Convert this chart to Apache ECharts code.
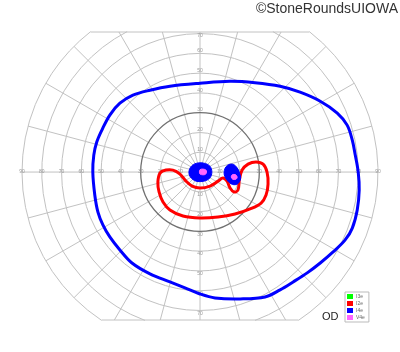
<!DOCTYPE html>
<html><head><meta charset="utf-8">
<script src="https://cdn.jsdelivr.net/npm/echarts@6/dist/echarts.min.js"></script>
<style>html,body{margin:0;padding:0;background:#fff}#c{width:400px;height:352px}</style>
</head><body><div id="c"></div>
<script>
// ---- chart data (degrees of visual field) ----
const gridRadii = [10, 20, 30, 40, 50, 60, 70, 80, 90];
const meridianAngles = [0, 15, 30, 45, 60, 75, 90, 105, 120, 135, 150, 165, 180, 195, 210, 225, 240, 255, 270, 285, 300, 315, 330, 345];
const hTickLabels = [10, 20, 30, 40, 50, 60, 70, 80, 90];
const vTickLabels = [10, 20, 30, 40, 50, 60, 70];
const fieldTop = 71;     // upper field limit (deg)
const fieldBottom = -75; // lower field limit (deg)

// I4e outer isopter [x, y] in degrees
const isopterI4e = [
  [-54.2, 0], [-53.7, 8.6], [-52.2, 15.2], [-49.6, 21.3], [-45.6, 28.9], [-40.5, 34.9],
  [-33.9, 39.0], [-25.3, 41.5], [-15.2, 43.5], [0, 45.0], [15.2, 46.0], [27.8, 45.3],
  [40.5, 43.5], [50.6, 40.5], [60.8, 35.9], [69.4, 29.9], [74.4, 23.8], [77.0, 16.2],
  [78.5, 8.6], [80.0, 0], [80.5, -9.1], [79.5, -19.2], [77.0, -28.4], [73.4, -34.4],
  [67.3, -40.5], [60.8, -46.1], [54.2, -51.1], [47.1, -55.7], [40.5, -59.7], [32.9, -63.3],
  [20.3, -64.3], [7.6, -63.8], [0, -61.8], [-7.6, -58.7], [-15.2, -55.7], [-25.3, -51.6],
  [-34.4, -46.1], [-40.5, -39.5], [-45.6, -32.9], [-49.1, -26.8], [-51.6, -20.3], [-53.2, -11.6]
];
// I2e isopter
const isopterI2e = [
  [-20.2, -0.5], [-17.2, 1.0], [-13.7, 1.0], [-10.1, -1.0], [-7.1, -4.6], [-4.0, -7.1],
  [0, -8.1], [5.1, -7.1], [9.1, -4.6], [11.6, -3.0], [13.7, -4.6], [15.2, -8.1],
  [17.2, -10.1], [19.2, -9.1], [19.9, -4.0], [21.3, 1.0], [24.3, 4.0], [28.3, 5.1],
  [31.9, 4.0], [33.9, 0], [34.4, -6.1], [33.4, -11.6], [30.9, -15.7], [25.3, -18.7],
  [17.7, -21.3], [9.1, -22.8], [0, -23.3], [-8.6, -22.3], [-15.2, -19.2], [-18.7, -15.2],
  [-20.7, -10.1], [-21.3, -5.1]
];
// filled I4e areas
const areaI4eCentral = [[-4.5, 2.8], [-2, 4.4], [2, 4.5], [5, 3], [6, 0], [5, -3], [2, -4.6], [-2, -4.6], [-4.8, -2.6], [-5.6, 0]];
const areaI4eBlindSpot = [[12.5, 1.5], [14, 3.5], [16.5, 4], [18.5, 2.5], [20, -0.5], [20.5, -3.5], [19, -6], [16.5, -6.3], [14, -4.5], [12.3, -1.5]];
// filled V4e areas
const areaV4eCentral = [[0, 1.2], [1.5, 1.5], [3, 1], [3.3, 0], [2.8, -1.1], [1.5, -1.4], [0, -1], [-0.3, 0]];
const areaV4eBlindSpot = [[16.3, -1.4], [17.9, -1.3], [18.8, -2.6], [18.1, -3.7], [16.5, -3.6], [15.8, -2.5]];

const legendNames = ['I3e', 'I2e', 'I4e', 'V4e'];
const legendColors = ['#00ff00', '#ff0000', '#0000ff', '#ff66ff'];

// ---- rendering ----
const LIGHT = '#c2c2c2';
const chart = echarts.init(document.getElementById('c'), null, {renderer: 'canvas'});

function renderCircle(params, api) {
  const r = api.value(0);
  const c = api.coord([0, 0]);
  const R = api.size([r, 0])[0];
  const dark = r === 30;
  const style = {fill: 'none', stroke: dark ? '#707070' : LIGHT, lineWidth: dark ? 1.3 : 1};
  if (r <= fieldTop) return {type: 'circle', shape: {cx: c[0], cy: c[1], r: R}, style};
  const at = Math.asin(Math.min(1, fieldTop / r));
  const ab = Math.asin(Math.min(1, -fieldBottom / r));
  const children = [
    {type: 'arc', shape: {cx: c[0], cy: c[1], r: R, startAngle: -at, endAngle: ab, clockwise: true}, style},
    {type: 'arc', shape: {cx: c[0], cy: c[1], r: R, startAngle: Math.PI - ab, endAngle: Math.PI + at, clockwise: true}, style}
  ];
  if (r === gridRadii[gridRadii.length - 1]) {
    const wt = Math.sqrt(r * r - fieldTop * fieldTop);
    const wb = Math.sqrt(r * r - fieldBottom * fieldBottom);
    const a1 = api.coord([-wt, fieldTop]), a2 = api.coord([wt, fieldTop]);
    const b1 = api.coord([-wb, fieldBottom]), b2 = api.coord([wb, fieldBottom]);
    children.push({type: 'line', shape: {x1: a1[0], y1: a1[1], x2: a2[0], y2: a2[1]}, style: {stroke: LIGHT, lineWidth: 1}});
    children.push({type: 'line', shape: {x1: b1[0], y1: b1[1], x2: b2[0], y2: b2[1]}, style: {stroke: LIGHT, lineWidth: 1}});
  }
  return {type: 'group', children};
}

function renderMeridian(params, api) {
  const th = api.value(0) * Math.PI / 180;
  const rMax = gridRadii[gridRadii.length - 1];
  const s = Math.sin(th);
  let rEnd = rMax;
  if (s > 0 && rMax * s > fieldTop) rEnd = fieldTop / s;
  if (s < 0 && -rMax * s > -fieldBottom) rEnd = fieldBottom / s;
  const c = api.coord([0, 0]);
  const e = api.coord([rEnd * Math.cos(th), rEnd * s]);
  return {type: 'line', shape: {x1: c[0], y1: c[1], x2: e[0], y2: e[1]}, style: {stroke: LIGHT, lineWidth: 1}};
}

const labelData = [];
hTickLabels.forEach(v => { labelData.push([v, 0, v, 0]); labelData.push([-v, 0, v, 0]); });
vTickLabels.forEach(v => { labelData.push([0, v, v, 1]); labelData.push([0, -v, v, -1]); });

function renderLabel(params, api) {
  const p = api.coord([api.value(0), api.value(1)]);
  const dir = api.value(3);
  let dy = 0;
  if (dir === 1) dy = api.value(1) >= 70 ? 2 : -3;
  if (dir === -1) dy = 3;
  return {type: 'text', x: p[0], y: p[1] + dy, style: {text: String(api.value(2)), fontSize: 5, fontFamily: 'Liberation Sans', fill: '#9a9a9a', align: 'center', verticalAlign: 'middle'}};
}

function shapeSeries(name, pts, color, filled, z) {
  return {
    type: 'custom', name, z, silent: true, clip: false,
    itemStyle: {color},
    data: [[0, 0]],
    renderItem: (params, api) => ({
      type: 'polygon',
      shape: {points: pts.map(p => api.coord(p)), smooth: filled ? 0.35 : 0.35},
      style: filled ? {fill: color, stroke: color, lineWidth: 1} : {fill: 'none', stroke: color, lineWidth: 3}
    })
  };
}

const option = {
  animation: false,
  backgroundColor: '#fff',
  grid: {left: 22, right: 22, top: 32, bottom: 32},
  xAxis: {type: 'value', min: -90, max: 90, show: false},
  yAxis: {type: 'value', min: fieldBottom, max: fieldTop, show: false},
  legend: {
    orient: 'vertical', left: 345, top: 292, icon: 'rect',
    itemWidth: 6, itemHeight: 5, itemGap: 2, padding: [2, 4, 2, 2],
    borderColor: '#bbbbbb', borderWidth: 1,
    selectedMode: false,
    textStyle: {fontSize: 5, color: '#666', fontFamily: 'Liberation Sans', padding: [0, 0, 0, -2]},
    data: legendNames
  },
  graphic: [
    {type: 'text', right: 2, top: 2, style: {text: '©StoneRoundsUIOWA', fontSize: 14, fontFamily: 'Liberation Sans', fill: '#333'}},
    {type: 'text', left: 322, top: 311, style: {text: 'OD', fontSize: 11, fontFamily: 'Liberation Sans', fill: '#222'}}
  ],
  series: [
    {type: 'custom', silent: true, z: 1, data: meridianAngles.map(a => [a]), renderItem: renderMeridian},
    {type: 'custom', silent: true, z: 2, data: gridRadii.map(r => [r]), renderItem: renderCircle},
    {type: 'custom', silent: true, z: 3, data: labelData, renderItem: renderLabel},
    {type: 'custom', name: legendNames[0], itemStyle: {color: legendColors[0]}, data: [], renderItem: () => null},
    shapeSeries(legendNames[1], isopterI2e, legendColors[1], false, 5),
    shapeSeries(legendNames[2], isopterI4e, legendColors[2], false, 6),
    shapeSeries(legendNames[2], areaI4eCentral, legendColors[2], true, 7),
    shapeSeries(legendNames[2], areaI4eBlindSpot, legendColors[2], true, 7),
    shapeSeries(legendNames[3], areaV4eCentral, legendColors[3], true, 8),
    shapeSeries(legendNames[3], areaV4eBlindSpot, legendColors[3], true, 8)
  ]
};
chart.setOption(option);
</script>
</body></html>
